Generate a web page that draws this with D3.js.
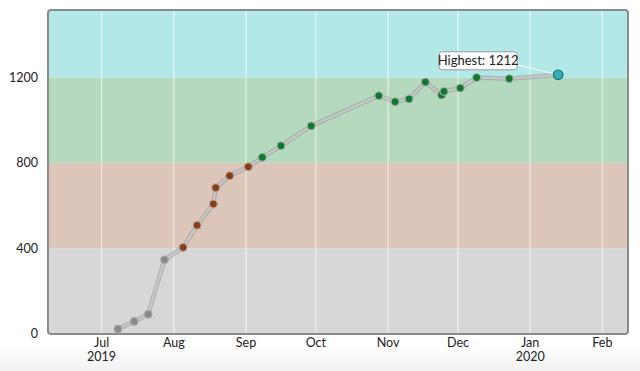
<!DOCTYPE html>
<html>
<head>
<meta charset="utf-8">
<script src="https://cdn.jsdelivr.net/npm/d3@7"></script>
<style>
  html, body { margin: 0; padding: 0; background: #fff; }
  svg { display: block; font-family: Lato, "Open Sans", sans-serif; }
</style>
</head>
<body>
<div id="chart"></div>
<script>
// data
const dates = ["2019-07-08", "2019-07-15", "2019-07-21", "2019-07-28", "2019-08-05", "2019-08-11",
               "2019-08-18", "2019-08-19", "2019-08-25", "2019-09-02", "2019-09-08", "2019-09-16",
               "2019-09-29", "2019-10-28", "2019-11-04", "2019-11-10", "2019-11-17", "2019-11-24",
               "2019-11-25", "2019-12-02", "2019-12-09", "2019-12-23", "2020-01-13"];
const values = [23, 59, 92, 347, 405, 508, 608, 684, 740, 782, 826, 880,
                973, 1114, 1086, 1099, 1178, 1117, 1134, 1150, 1199, 1194, 1212];

const bandEdges = [0, 400, 800, 1200];
const bandColors = ["#d7d7d7", "#dcc5b9", "#b4d9bf", "#b2e9e8"];
const dotColors = ["#8a8a8a", "#8e3d12", "#0d7a2c", "#2cb3b5"];
const yTicks = [0, 400, 800, 1200];

const width = 640, height = 371;
const margin = {top: 10, right: 12, bottom: 37, left: 48};

const parse = d3.timeParse("%Y-%m-%d");
const data = dates.map((d, i) => ({date: parse(d), value: values[i]}));
const maxVal = d3.max(values);

const svg = d3.select("#chart").append("svg")
  .attr("width", width)
  .attr("height", height);

// faint grey fade at the bottom of the page
const defs = svg.append("defs");
const fade = defs.append("linearGradient").attr("id", "fade")
  .attr("x1", 0).attr("y1", 0).attr("x2", 0).attr("y2", 1);
fade.append("stop").attr("offset", "0%").attr("stop-color", "#fff");
fade.append("stop").attr("offset", "100%").attr("stop-color", "#f1f1f1");
svg.append("rect").attr("x", 0).attr("y", 345).attr("width", width).attr("height", 26)
  .attr("fill", "url(#fade)");

const x = d3.scaleTime()
  .domain([new Date(2019, 5, 8), new Date(2020, 1, 12)])
  .range([margin.left, width - margin.right]);

const y = d3.scaleLinear()
  .domain([0, maxVal * 1.25])
  .range([height - margin.bottom, margin.top]);

defs.append("clipPath").attr("id", "plot")
  .append("rect")
  .attr("x", margin.left).attr("y", margin.top)
  .attr("width", width - margin.left - margin.right)
  .attr("height", height - margin.top - margin.bottom)
  .attr("rx", 3);

const plot = svg.append("g").attr("clip-path", "url(#plot)");

// colour bands
const bands = bandEdges.map((b, i) => ({lo: b, hi: i < bandEdges.length - 1 ? bandEdges[i + 1] : y.domain()[1]}));
plot.selectAll("rect.band")
  .data(bands)
  .enter()
  .append("rect")
  .attr("class", "band")
  .attr("x", margin.left)
  .attr("width", width - margin.left - margin.right)
  .attr("y", d => y(d.hi))
  .attr("height", d => y(d.lo) - y(d.hi))
  .attr("fill", (d, i) => bandColors[i]);

// month grid lines
const months = x.ticks(d3.timeMonth.every(1));
plot.selectAll("line.grid")
  .data(months)
  .enter()
  .append("line")
  .attr("x1", d => x(d)).attr("x2", d => x(d))
  .attr("y1", margin.top).attr("y2", height - margin.bottom)
  .attr("stroke", "#fff")
  .attr("stroke-opacity", 0.6)
  .attr("stroke-width", 1.2);

// frame
svg.append("rect")
  .attr("x", margin.left).attr("y", margin.top)
  .attr("width", width - margin.left - margin.right)
  .attr("height", height - margin.top - margin.bottom)
  .attr("rx", 3)
  .attr("fill", "none")
  .attr("stroke", "#8c8c8c")
  .attr("stroke-width", 2);

// line
const line = d3.line().x(d => x(d.date)).y(d => y(d.value));
plot.append("path").datum(data)
  .attr("d", line)
  .attr("fill", "none")
  .attr("stroke", "#9a9a9a")
  .attr("stroke-width", 4.5)
  .attr("stroke-linejoin", "round")
  .attr("stroke-opacity", 0.6);
plot.append("path").datum(data)
  .attr("d", line)
  .attr("fill", "none")
  .attr("stroke", "#c9c9c9")
  .attr("stroke-width", 2)
  .attr("stroke-linejoin", "round");

function bandIndex(v) {
  let k = 0;
  bandEdges.forEach((b, i) => { if (v >= b) k = i; });
  return k;
}

// points
const pts = data.filter(d => d.value !== maxVal);
plot.selectAll("circle.pt")
  .data(pts)
  .enter()
  .append("circle")
  .attr("class", "pt")
  .attr("cx", d => x(d.date))
  .attr("cy", d => y(d.value))
  .attr("r", 4)
  .attr("fill", d => dotColors[bandIndex(d.value)])
  .attr("stroke", "#b0b0b0")
  .attr("stroke-width", 1);

// highest point + callout
const peak = data.find(d => d.value === maxVal);
const tx = x(peak.date), ty = y(peak.value);
const box = {x: tx - 119, y: ty - 23, w: 78, h: 18};

svg.append("line")
  .attr("x1", box.x + box.w).attr("y1", box.y + box.h - 5)
  .attr("x2", tx).attr("y2", ty)
  .attr("stroke", "#fff")
  .attr("stroke-width", 1);

svg.append("circle")
  .attr("cx", tx).attr("cy", ty)
  .attr("r", 4.8)
  .attr("fill", dotColors[3])
  .attr("stroke", "#1f6f73")
  .attr("stroke-width", 1.2);

svg.append("rect")
  .attr("x", box.x).attr("y", box.y)
  .attr("width", box.w).attr("height", box.h)
  .attr("rx", 3)
  .attr("fill", "#fff")
  .attr("stroke", "#9a9a9a")
  .attr("stroke-width", 1);

svg.append("text")
  .attr("x", box.x + box.w / 2)
  .attr("y", box.y + box.h / 2)
  .attr("dy", "0.35em")
  .attr("text-anchor", "middle")
  .attr("font-size", 13)
  .attr("fill", "#222")
  .text("Highest: " + maxVal);

// y axis labels
svg.append("g").selectAll("text")
  .data(yTicks)
  .enter()
  .append("text")
  .attr("x", margin.left - 10)
  .attr("y", d => y(d))
  .attr("dy", "0.35em")
  .attr("text-anchor", "end")
  .attr("font-size", 12.5)
  .attr("fill", "#222")
  .text(d => d);

// x axis labels
const fmtMonth = d3.timeFormat("%b");
const xl = svg.append("g").selectAll("g")
  .data(months)
  .enter()
  .append("g")
  .attr("transform", d => `translate(${x(d)},0)`);
xl.append("text")
  .attr("y", height - margin.bottom + 13)
  .attr("text-anchor", "middle")
  .attr("font-size", 12.5)
  .attr("fill", "#222")
  .text(d => fmtMonth(d));
xl.filter(d => d.getMonth() === 0 || d.getMonth() === 6)
  .append("text")
  .attr("y", height - margin.bottom + 27)
  .attr("text-anchor", "middle")
  .attr("font-size", 12.5)
  .attr("fill", "#222")
  .text(d => d.getFullYear());
</script>
</body>
</html>
